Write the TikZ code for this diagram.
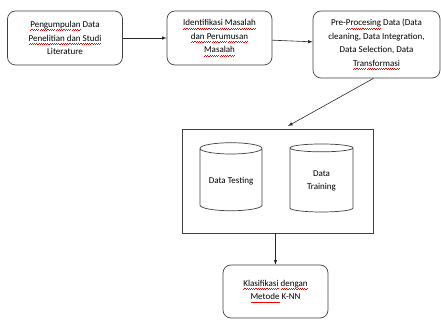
\documentclass[tikz,border=0pt]{standalone}
\usepackage{fontspec}
\setmainfont{Carlito}
\usetikzlibrary{shapes.geometric}
% garis merah berombak di bawah kata
\newcommand\salah[1]{\setbox0\hbox{#1}\rlap{\hbox to\wd0{\xleaders\hbox{\textcolor{red}{\rule[-3.4pt]{1.1pt}{0.6pt}\rule[-2.5pt]{1.1pt}{0.6pt}}}\hfil}}#1}
\begin{document}
\begin{tikzpicture}[x=1pt,y=-1pt,
    langkah/.style={draw=black!75,line width=0.7pt,rounded corners=8pt,align=center,
      font=\fontsize{9}{13.5}\selectfont,inner sep=2pt},
    tabung/.style={draw=black!75,line width=0.7pt,cylinder,shape border rotate=90,aspect=0.22,
      align=center,font=\fontsize{9}{13.5}\selectfont},
    panah/.style={draw=black!85,line width=0.6pt,-latex}]
    \useasboundingbox (0,0) rectangle (441,320);
    % tahapan atas
    \node[langkah,minimum width=115pt,minimum height=54pt] (kumpul) at (65,38)
        {\salah{Pengumpulan} Data\\\salah{Penelitian dan Studi}\\Literature};
    \node[langkah,minimum width=105pt,minimum height=54pt] (identifikasi) at (219.5,38)
        {\salah{Identifikasi Masalah}\\\salah{dan Perumusan}\\\salah{Masalah}};
    \node[langkah,minimum width=127pt,minimum height=67pt] (preproses) at (376.5,44.5)
        {Pre-\salah{Procesing} Data (Data\\cleaning, Data Integration,\\Data Selection, Data\\\salah{Transformasi}};
    % kotak data
    \node[draw=black!75,line width=0.7pt,minimum width=191pt,minimum height=104pt] (data) at (277.5,181) {};
    \node[tabung,minimum width=62pt,minimum height=68pt] (testing) at (231,181) {Data Testing};
    \node[tabung,minimum width=63pt,minimum height=68pt] (training) at (321.5,181) {Data\\Training};
    % klasifikasi
    \node[langkah,minimum width=105pt,minimum height=53pt] (knn) at (275.5,291.5)
        {\salah{Klasifikasi} \salah{dengan}\\\salah{Metode} K-NN};
    \coordinate (masuk) at (288,126);
    \draw[panah] (kumpul) -- (identifikasi);
    \draw[panah] (identifikasi) -- (preproses);
    \draw[panah] (preproses.south) ++(-3,0) -- (masuk);
    \draw[panah] (data.south) ++(-2,0) -- (knn.north -| 275.5,0);
\end{tikzpicture}
\end{document}
